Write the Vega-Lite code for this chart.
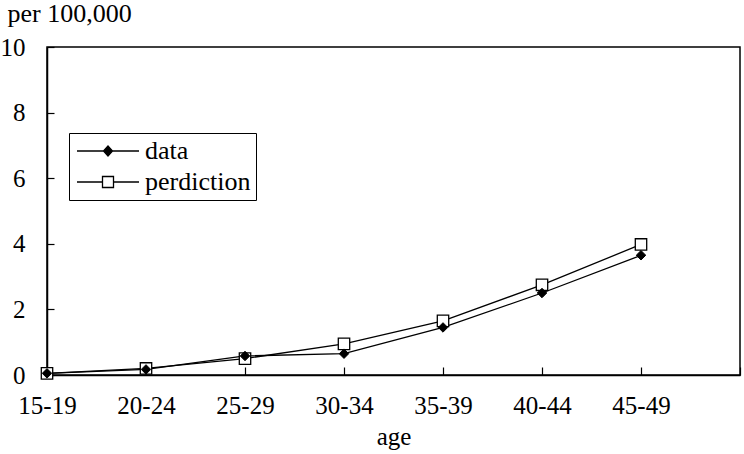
{
  "$schema": "https://vega.github.io/schema/vega-lite/v6.json",
  "width": 693,
  "height": 328,
  "autosize": {"type": "none"},
  "padding": {"left": 47, "top": 47, "right": 4, "bottom": 79},
  "background": "white",
  "config": {
    "font": "Times New Roman",
    "view": {"stroke": "black", "strokeWidth": 1.5},
    "axis": {
      "domainColor": "black",
      "domainWidth": 1.5,
      "tickColor": "black",
      "tickWidth": 1.2,
      "labelColor": "black",
      "titleColor": "black",
      "labelFont": "Times New Roman",
      "titleFont": "Times New Roman",
      "labelFontSize": 25,
      "titleFontSize": 25,
      "titleFontWeight": "normal",
      "grid": false
    },
    "legend": {
      "labelFont": "Times New Roman"
    }
  },
  "data": {
    "values": [
      {"age": "15-19", "series": "data", "value": 0.05},
      {"age": "20-24", "series": "data", "value": 0.17},
      {"age": "25-29", "series": "data", "value": 0.58},
      {"age": "30-34", "series": "data", "value": 0.65},
      {"age": "35-39", "series": "data", "value": 1.45},
      {"age": "40-44", "series": "data", "value": 2.5},
      {"age": "45-49", "series": "data", "value": 3.65},
      {"age": "15-19", "series": "perdiction", "value": 0.05},
      {"age": "20-24", "series": "perdiction", "value": 0.2},
      {"age": "25-29", "series": "perdiction", "value": 0.5},
      {"age": "30-34", "series": "perdiction", "value": 0.95},
      {"age": "35-39", "series": "perdiction", "value": 1.65},
      {"age": "40-44", "series": "perdiction", "value": 2.75},
      {"age": "45-49", "series": "perdiction", "value": 3.98}
    ]
  },
  "encoding": {
    "x": {
      "field": "age",
      "type": "ordinal",
      "scale": {"type": "point", "padding": 0, "domain": ["15-19", "20-24", "25-29", "30-34", "35-39", "40-44", "45-49", " "]},
      "axis": {"title": "age", "labelAngle": 0, "tickSize": -8, "labelPadding": 26, "titlePadding": 6, "labelFlush": false}
    },
    "y": {
      "field": "value",
      "type": "quantitative",
      "scale": {"domain": [0, 10], "nice": false},
      "axis": {
        "values": [0, 2, 4, 6, 8, 10],
        "tickSize": -7,
        "labelPadding": 29,
        "title": "per 100,000",
        "titleFontSize": 26,
        "titleAngle": 0,
        "titleAlign": "left",
        "titleBaseline": "alphabetic",
        "titleX": -40,
        "titleY": -26
      }
    }
  },
  "layer": [
    {
      "mark": {"type": "line", "color": "black", "strokeWidth": 1.3},
      "encoding": {"detail": {"field": "series"}}
    },
    {
      "transform": [{"filter": "datum.series === 'perdiction'"}],
      "mark": {"type": "point", "shape": "square", "filled": true, "fill": "white", "stroke": "black", "strokeWidth": 1.3, "size": 130, "opacity": 1}
    },
    {
      "transform": [{"filter": "datum.series === 'data'"}],
      "mark": {"type": "point", "shape": "diamond", "filled": true, "fill": "black", "stroke": "black", "strokeWidth": 1, "size": 90, "opacity": 1}
    },
    {
      "mark": {"type": "point", "opacity": 0, "filled": true, "stroke": "black", "strokeWidth": 1.3, "size": 400},
      "encoding": {
        "shape": {
          "field": "series",
          "scale": {
            "domain": ["data", "perdiction"],
            "range": [
              "M-1,0H1.65M1.65,0L2.1,-0.5L2.55,0L2.1,0.5ZM2.55,0H5.2",
              "M-1,0H1.55M1.55,-0.55H2.65V0.55H1.55ZM2.65,0H5.2"
            ]
          },
          "legend": {
            "title": null,
            "orient": "none",
            "legendX": 22,
            "legendY": 86,
            "strokeColor": "black",
            "fillColor": "white",
            "padding": 5,
            "cornerRadius": 0,
            "labelFontSize": 26,
            "labelColor": "black",
            "labelOffset": 45,
            "rowPadding": 5,
            "symbolSize": 400,
            "symbolOpacity": 1,
            "symbolStrokeColor": "black",
            "symbolStrokeWidth": 1.3,
            "encode": {
              "symbols": {
                "update": {
                  "stroke": {"value": "black"},
                  "strokeWidth": {"value": 1.3},
                  "opacity": {"value": 1},
                  "strokeOpacity": {"value": 1},
                  "fillOpacity": {"value": 1}
                }
              }
            }
          }
        },
        "fill": {
          "field": "series",
          "scale": {"domain": ["data", "perdiction"], "range": ["black", "white"]},
          "legend": {
            "title": null,
            "orient": "none",
            "legendX": 22,
            "legendY": 86,
            "strokeColor": "black",
            "fillColor": "white",
            "padding": 5,
            "cornerRadius": 0,
            "labelFontSize": 26,
            "labelColor": "black",
            "labelOffset": 45,
            "rowPadding": 5,
            "symbolSize": 400,
            "symbolOpacity": 1,
            "symbolStrokeColor": "black",
            "symbolStrokeWidth": 1.3,
            "encode": {
              "symbols": {
                "update": {
                  "stroke": {"value": "black"},
                  "strokeWidth": {"value": 1.3},
                  "opacity": {"value": 1},
                  "strokeOpacity": {"value": 1},
                  "fillOpacity": {"value": 1}
                }
              }
            }
          }
        }
      }
    }
  ]
}
